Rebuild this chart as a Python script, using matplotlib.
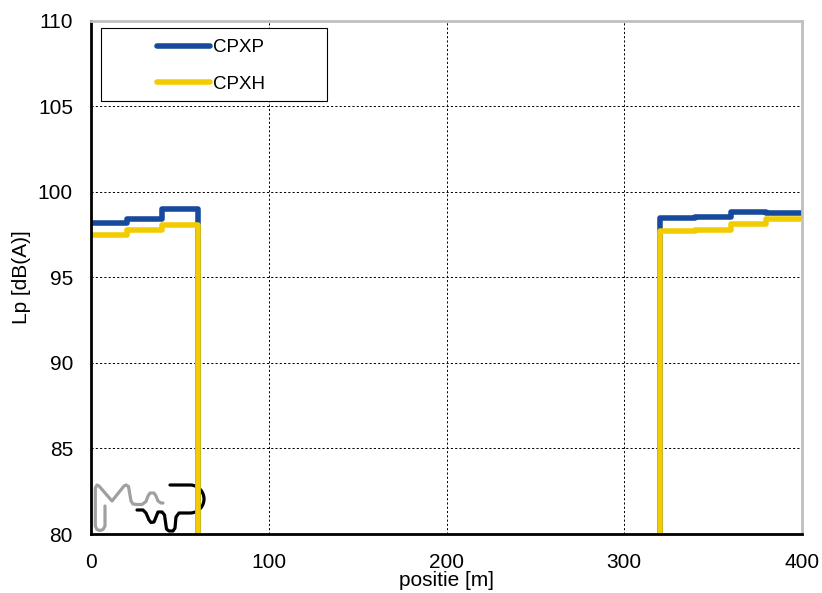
import matplotlib
matplotlib.use("Agg")
import matplotlib.pyplot as plt
from matplotlib.patches import Rectangle
import numpy as np

plt.rcParams["font.family"] = ["Liberation Sans", "DejaVu Sans"]

# 20 m bins, 0 = no data (falls below the axis)
bin_start = np.arange(0, 400, 20)
cpxp = [98.2, 98.45, 99.0] + [0] * 13 + [98.5, 98.55, 98.85, 98.8]
cpxh = [97.5, 97.8, 98.05] + [0] * 13 + [97.7, 97.8, 98.1, 98.4]
x_end = 400

BLUE = "#174A9C"
YELLOW = "#F2CC00"

fig = plt.figure(figsize=(8.22, 5.93), dpi=100)
ax = fig.add_axes([91 / 822, 59 / 593, 711 / 822, 513 / 593])
W, H = 711.0, 513.0

for vals, col, lab in [(cpxp, BLUE, "CPXP"), (cpxh, YELLOW, "CPXH")]:
    xs = np.append(bin_start, x_end)
    ys = np.append(vals, vals[-1])
    ax.step(xs, ys, where="post", color=col, lw=4.0, label=lab,
            solid_joinstyle="round", solid_capstyle="butt", zorder=3)

ax.set_xlim(0, 400)
ax.set_ylim(80, 110)
ax.set_xticks([0, 100, 200, 300, 400])
ax.set_yticks(np.arange(80, 111, 5))
ax.tick_params(axis="x", length=0, labelsize=15, pad=14)
ax.tick_params(axis="y", length=0, labelsize=15, pad=13)
ax.grid(True, color="black", ls=(0, (2.2, 2.2)), lw=0.7)
ax.set_xlabel("positie [m]", fontsize=15, labelpad=-1)
ax.set_ylabel("Lp [dB(A)]", fontsize=15, labelpad=5)

for s in ["left", "bottom"]:
    ax.spines[s].set_linewidth(2)
    ax.spines[s].set_color("black")
for s in ["top", "right"]:
    ax.spines[s].set_linewidth(2)
    ax.spines[s].set_color("#c0c0c0")
for s in ax.spines.values():
    s.set_zorder(4)

# legend: frame drawn separately, entries right of centre
ax.add_patch(Rectangle((10 / W, 433 / H), 226 / W, 73 / H, transform=ax.transAxes,
                       fill=True, facecolor="white", edgecolor="black", lw=0.8,
                       zorder=5))
leg = ax.legend(loc="upper left", bbox_to_anchor=(66 / W, 1 - 18 / H),
                fontsize=13.5, frameon=False, handlelength=2.8,
                borderpad=0, labelspacing=1.05, handletextpad=0.2,
                borderaxespad=0)
leg.set_zorder(6)
for ln in leg.get_lines():
    ln.set_linewidth(4.0)
    ln.set_solid_capstyle("round")

# logo (pixel offsets from axes origin)
def logo_line(px, py, col):
    ax.plot(np.array(px) / W, np.array(py) / H, transform=ax.transAxes,
            color=col, lw=2.3, solid_capstyle="round", solid_joinstyle="round",
            clip_on=False, zorder=2)

gx = [14, 14, 12, 9, 6, 4.3, 4.3, 6, 8, 21, 33, 35, 37.5, 40, 42, 46, 51,
      55, 57, 59, 63, 65, 67, 70, 72]
gy = [28, 8, 4.5, 3.5, 4.5, 8, 46, 49, 48, 33, 48, 49, 47.5, 33, 30, 29.5,
      29.5, 32.5, 38, 41, 41, 38, 33, 31, 31]
logo_line(gx, gy, "#a0a0a0")

t = np.linspace(-np.pi / 2, np.pi / 2, 30)
bx = np.concatenate([[46, 52, 55, 58, 60, 63, 65, 67, 71, 73.5, 74.5, 75.5,
                      78, 82, 84, 85, 88], 99 + 14 * np.cos(t), [79]])
by = np.concatenate([[24, 24, 21, 14, 11.5, 12, 17, 22, 22, 19, 12, 5,
                      3, 3, 6, 17, 21], 35 + 14 * np.sin(t), [49]])
logo_line(bx, by, "black")

fig.savefig("out.png", dpi=100)
